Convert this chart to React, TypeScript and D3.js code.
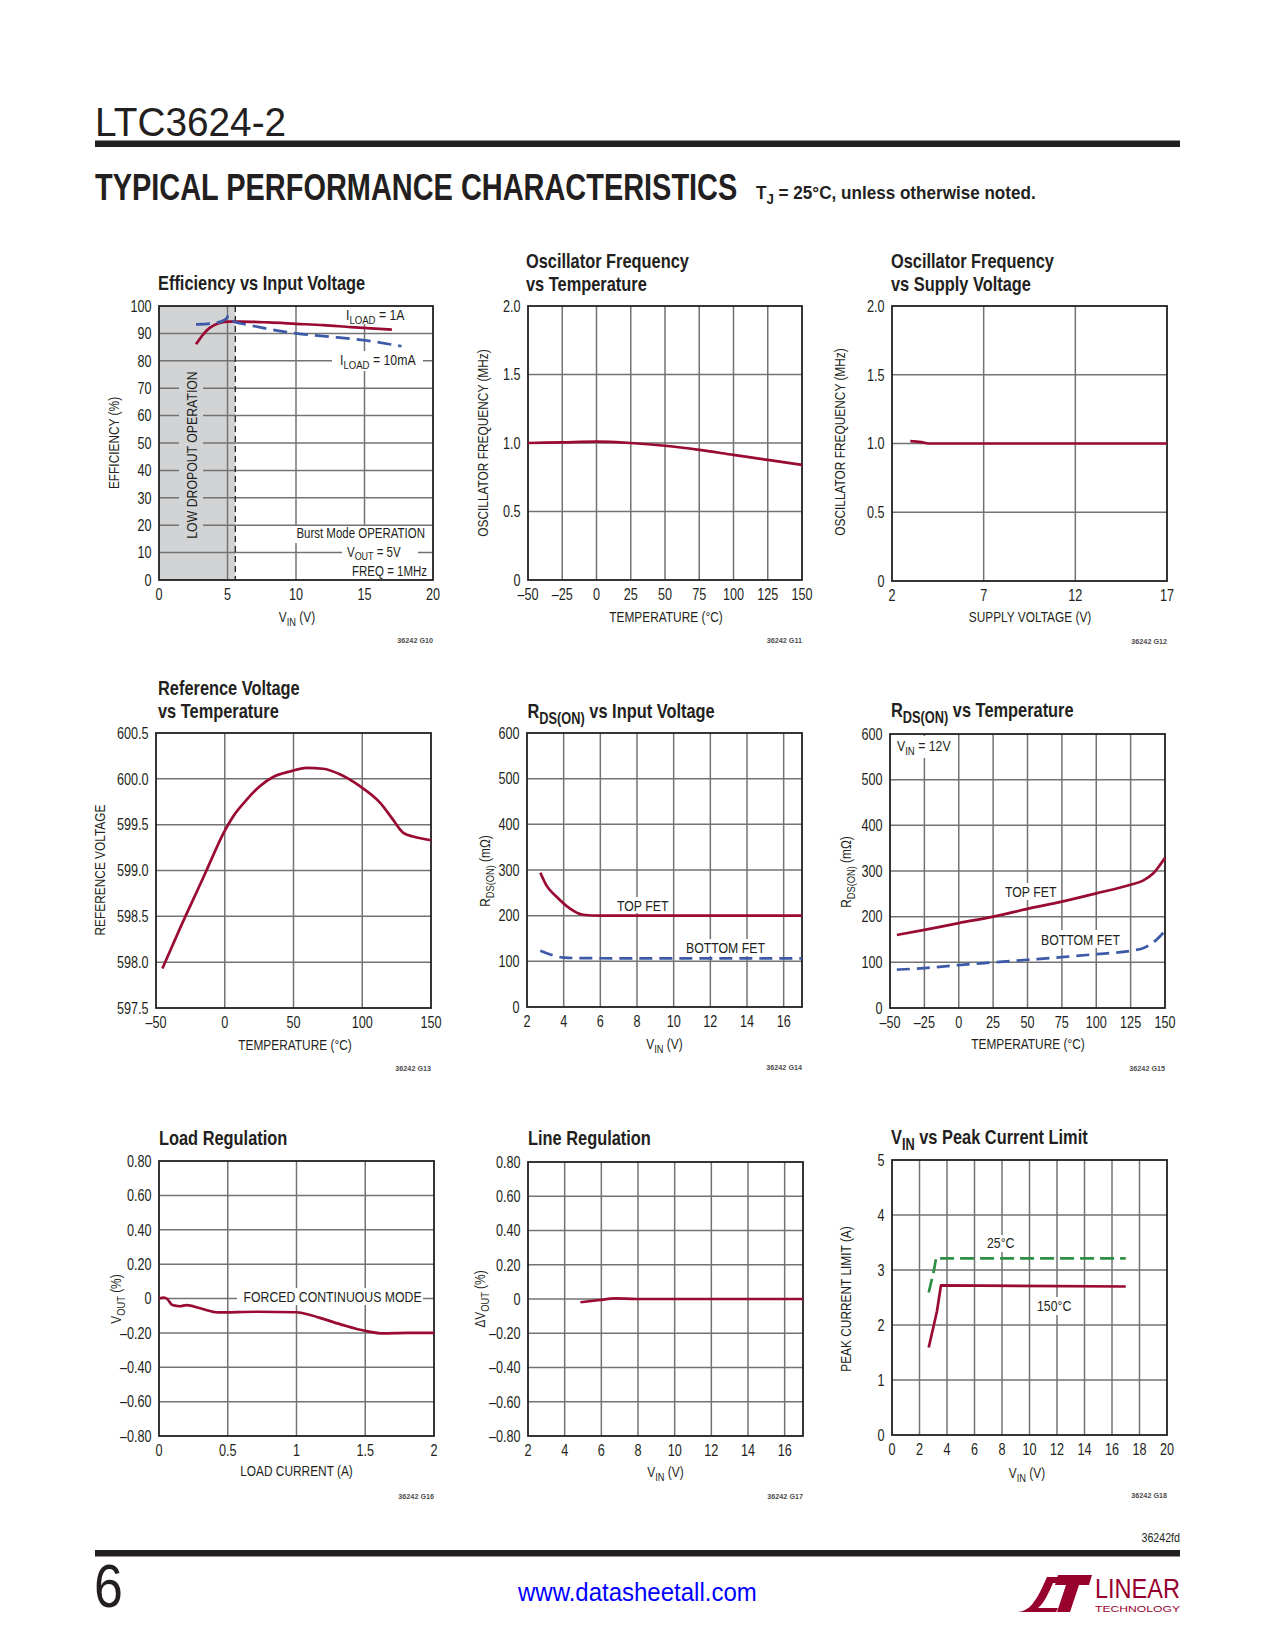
import React from 'react';
import * as d3 from 'd3';

const FONT = "'Liberation Sans', Arial, Helvetica, sans-serif";
const SX = 0.82; // horizontal compression to mimic Helvetica Condensed
const INK = '#231f20';
const RED = '#9a0b33';
const BLUE = '#3d5aa8';
const GREEN = '#2f8e45';
const GRID = '#737373';
const SHADE = '#d1d3d4';

// ---------- DATA ----------
// Efficiency vs Input Voltage
const effVin1A = [2.7, 3.2, 3.7, 4.3, 5.0, 6.0, 8.0, 10, 12, 14, 17];
const eff1A = [86, 89.5, 92, 93.6, 94.3, 94.3, 94, 93.5, 93, 92.3, 91.4];
const effVin10mA = [2.7, 4.2, 4.9, 5.1, 5.5, 6, 7, 8, 10, 12, 15, 17.7];
const eff10mA = [93.3, 93.9, 95.3, 96.6, 94.2, 93.6, 92.6, 91.6, 90, 89, 87.5, 85.3];
const effXTicks = [0, 5, 10, 15, 20];
const effXLabels = ['0', '5', '10', '15', '20'];
const effYTicks = [0, 10, 20, 30, 40, 50, 60, 70, 80, 90, 100];
const effYLabels = ['0', '10', '20', '30', '40', '50', '60', '70', '80', '90', '100'];
const dropoutEdge = 5.57;

// Oscillator Frequency vs Temperature
const oscTemp = [-50, -25, 0, 25, 50, 75, 100, 125, 150];
const oscFreqT = [1.0, 1.005, 1.01, 1.0, 0.98, 0.95, 0.913, 0.877, 0.84];
const tempTicks = [-50, -25, 0, 25, 50, 75, 100, 125, 150];
const tempLabels = ['–50', '–25', '0', '25', '50', '75', '100', '125', '150'];
const freqTicks = [0, 0.5, 1.0, 1.5, 2.0];
const freqLabels = ['0', '0.5', '1.0', '1.5', '2.0'];

// Oscillator Frequency vs Supply Voltage
const oscVs = [3, 3.6, 4, 5, 7, 12, 17];
const oscFreqV = [1.017, 1.01, 1.0, 1.0, 1.0, 1.0, 1.0];
const supplyTicks = [2, 7, 12, 17];
const supplyLabels = ['2', '7', '12', '17'];

// Reference Voltage vs Temperature
const refTemp = [-45.4, -32.8, -13.3, -5.9, -1.2, 6.1, 15.8, 25.5, 35.2, 47.3, 59.5, 71.6, 83.7, 98.3, 112.9, 122.6, 129.9, 137.1, 150];
const refV = [597.93, 598.36, 599.0, 599.25, 599.4, 599.59, 599.77, 599.92, 600.02, 600.08, 600.12, 600.11, 600.05, 599.92, 599.74, 599.55, 599.41, 599.37, 599.33];
const refXTicks = [-50, 0, 50, 100, 150];
const refXLabels = ['–50', '0', '50', '100', '150'];
const refYTicks = [597.5, 598.0, 598.5, 599.0, 599.5, 600.0, 600.5];
const refYLabels = ['597.5', '598.0', '598.5', '599.0', '599.5', '600.0', '600.5'];

// RDS(ON) vs Input Voltage
const rdsVinTop = [2.73, 3.05, 3.6, 4.33, 5.05, 5.96, 8, 12, 17];
const rdsTopV = [294, 267, 242, 216, 202, 200, 200, 200, 200];
const rdsVinBot = [2.73, 3.6, 4.05, 5, 8, 12, 17];
const rdsBotV = [123, 111, 108, 107, 106.5, 106.5, 106.5];
const vinTicks = [2, 4, 6, 8, 10, 12, 14, 16];
const vinLabels = ['2', '4', '6', '8', '10', '12', '14', '16'];
const rdsTicks = [0, 100, 200, 300, 400, 500, 600];
const rdsLabels = ['0', '100', '200', '300', '400', '500', '600'];

// RDS(ON) vs Temperature
const rdsTemp = [-45, -25, 0, 25, 50, 75, 100, 125, 134, 141.5, 150];
const rdsTopT = [160, 171, 186, 200, 217, 233, 251, 270, 279, 295, 329];
const rdsBotT = [84, 87.4, 94, 99.8, 105.6, 111.4, 118, 125.3, 131, 143.5, 169];

// Load Regulation
const loadI = [0, 0.036, 0.06, 0.097, 0.153, 0.2, 0.3, 0.43, 0.71, 1.0, 1.1, 1.2, 1.34, 1.51, 1.63, 1.8, 2.0];
const loadDV = [0, 0.005, -0.003, -0.038, -0.045, -0.038, -0.057, -0.081, -0.077, -0.08, -0.096, -0.12, -0.155, -0.19, -0.203, -0.2, -0.2];
const loadXTicks = [0, 0.5, 1, 1.5, 2];
const loadXLabels = ['0', '0.5', '1', '1.5', '2'];
const regYTicks = [-0.8, -0.6, -0.4, -0.2, 0, 0.2, 0.4, 0.6, 0.8];
const regYLabels = ['–0.80', '–0.60', '–0.40', '–0.20', '0', '0.20', '0.40', '0.60', '0.80'];

// Line Regulation
const lineVin = [4.86, 5.92, 6.74, 7.9, 10, 14, 17];
const lineDV = [-0.019, -0.006, 0.004, 0, 0, 0, 0];

// VIN vs Peak Current Limit
const ipkVin25 = [2.67, 3.03, 3.22, 3.47, 17];
const ipk25 = [2.59, 2.97, 3.23, 3.21, 3.21];
const ipkVin150 = [2.67, 3.27, 3.56, 17];
const ipk150 = [1.59, 2.25, 2.72, 2.7];
const ipkXTicks = [0, 2, 4, 6, 8, 10, 12, 14, 16, 18, 20];
const ipkXLabels = ['0', '2', '4', '6', '8', '10', '12', '14', '16', '18', '20'];
const ipkYTicks = [0, 1, 2, 3, 4, 5];
const ipkYLabels = ['0', '1', '2', '3', '4', '5'];

// ---------- HELPERS ----------
type Part = [string, boolean?];

function Rich(props: any) {
  const { parts, size, x = 0, y = 0, anchor = 'start', rotate = false, weight = 'normal', fill = INK, sx = SX } = props;
  const shift = size * 0.28;
  let cur = 0;
  const tf = `translate(${x},${y})${rotate ? ' rotate(-90)' : ''} scale(${sx},1)`;
  return (
    <g transform={tf}>
      <text fontSize={size} fontFamily={FONT} fill={fill} fontWeight={weight} textAnchor={anchor}>
        {parts.map((p: Part, i: number) => {
          const sub = !!p[1];
          const target = sub ? shift : 0;
          const d = target - cur;
          cur = target;
          return (
            <tspan key={i} dy={d !== 0 ? d : undefined} fontSize={sub ? size * 0.78 : size}>
              {p[0]}
            </tspan>
          );
        })}
      </text>
    </g>
  );
}

interface Series { x: number[]; y: number[]; color: string; dash?: string; curve?: any }
interface Label { parts: Part[]; x: number; y: number; anchor?: string; rotate?: boolean; size?: number }
interface Gap { x: number; y: number; w: number; h: number; fill?: string }

const TICK = 16;
const TICK_SX = 0.79;

function Chart(c: any) {
  const xs = d3.scaleLinear().domain(c.xDomain).range([c.left, c.right]);
  const ys = d3.scaleLinear().domain(c.yDomain).range([c.bottom, c.top]);
  const vGrid: number[] = c.vGrid ?? c.xTicks.slice(1, -1);
  const hGrid: number[] = c.hGrid ?? c.yTicks.slice(1, -1);
  return (
    <g>
      {c.shade && (
        <rect x={xs(c.shade[0])} y={c.top} width={xs(c.shade[1]) - xs(c.shade[0])} height={c.bottom - c.top} fill={SHADE} />
      )}
      {vGrid.map((v: number) => (
        <line key={'v' + v} x1={xs(v)} x2={xs(v)} y1={c.top} y2={c.bottom} stroke={GRID} strokeWidth={1.5} />
      ))}
      {hGrid.map((v: number) => (
        <line key={'h' + v} x1={c.left} x2={c.right} y1={ys(v)} y2={ys(v)} stroke={GRID} strokeWidth={1.5} />
      ))}
      {c.shade && (
        <line x1={xs(c.shade[1])} x2={xs(c.shade[1])} y1={c.top} y2={c.bottom} stroke={INK} strokeWidth={1.3} strokeDasharray="6 4" />
      )}
      {(c.gaps ?? []).map((g: Gap, i: number) => (
        <rect key={'g' + i} x={g.x} y={g.y} width={g.w} height={g.h} fill={g.fill ?? '#ffffff'} />
      ))}
      <rect x={c.left} y={c.top} width={c.right - c.left} height={c.bottom - c.top} fill="none" stroke={INK} strokeWidth={1.8} />
      {c.series.map((s: Series, i: number) => {
        const pts: [number, number][] = s.x.map((xv, j) => [xs(xv), ys(s.y[j])]);
        const gen = d3.line().curve(s.curve ?? d3.curveMonotoneX);
        return (
          <path key={'s' + i} d={gen(pts) ?? ''} fill="none" stroke={s.color} strokeWidth={2.7}
            strokeDasharray={s.dash} strokeLinejoin="round" strokeLinecap="butt" />
        );
      })}
      {(c.labels ?? []).map((l: Label, i: number) => (
        <Rich key={'l' + i} parts={l.parts} size={l.size ?? 15} x={l.x} y={l.y} anchor={l.anchor ?? 'start'} rotate={l.rotate} />
      ))}
      {c.xTicks.map((v: number, i: number) => (
        <Rich key={'xt' + v} parts={[[c.xTickLabels[i]]]} size={TICK} sx={TICK_SX} x={xs(v)} y={c.bottom + 19.5} anchor="middle" />
      ))}
      {c.yTicks.map((v: number, i: number) => (
        <Rich key={'yt' + v} parts={[[c.yTickLabels[i]]]} size={TICK} sx={TICK_SX} x={c.left - 7.5} y={ys(v) + 5.8} anchor="end" />
      ))}
      {c.title.map((line: Part[], i: number) => (
        <Rich key={'t' + i} parts={line} size={20} weight="bold" x={c.titleX}
          y={c.titleY - (c.title.length - 1 - i) * 23} />
      ))}
      <Rich parts={c.xTitle} size={14.5} x={c.xTitleX} y={c.xTitleY} anchor="middle" />
      <Rich parts={c.yTitle} size={14.5} x={c.yTitleX} y={c.yTitleY} anchor="middle" rotate />
      <Rich parts={[[c.code]]} size={8} weight="bold" x={c.right} y={c.bottom + 63} anchor="end" fill="#4d4d4f" sx={0.9} />
    </g>
  );
}

const VIN: Part[] = [['V'], ['IN', true], [' (V)']];
const TEMP: Part[] = [['TEMPERATURE (°C)']];
const RDS_Y: Part[] = [['R'], ['DS(ON)', true], [' (mΩ)']];

export default function App() {
  const charts = [
    {
      code: '36242 G10', left: 159, top: 306, right: 433, bottom: 580,
      xDomain: [0, 20], yDomain: [0, 100],
      xTicks: effXTicks, xTickLabels: effXLabels, yTicks: effYTicks, yTickLabels: effYLabels,
      shade: [0, dropoutEdge],
      series: [
        { x: effVin1A, y: eff1A, color: RED },
        { x: effVin10mA, y: eff10mA, color: BLUE, dash: '14 7' },
      ],
      gaps: [
        { x: 179, y: 368, w: 24, h: 174, fill: SHADE },
        { x: 343, y: 307, w: 69, h: 17 },
        { x: 332, y: 351, w: 91, h: 20 },
        { x: 283, y: 526, w: 145, h: 17 },
        { x: 342, y: 543, w: 76, h: 18 },
        { x: 344, y: 561, w: 86, h: 18 },
      ],
      labels: [
        { parts: [['I'], ['LOAD', true], [' = 1A']], x: 346, y: 320 },
        { parts: [['I'], ['LOAD', true], [' = 10mA']], x: 340, y: 365 },
        { parts: [['LOW DROPOUT OPERATION']], x: 197, y: 455, anchor: 'middle', rotate: true },
        { parts: [['Burst Mode OPERATION']], x: 425, y: 538, anchor: 'end', size: 14 },
        { parts: [['V'], ['OUT', true], [' = 5V']], x: 347, y: 556.5, size: 14 },
        { parts: [['FREQ = 1MHz']], x: 427, y: 576, anchor: 'end', size: 14 },
      ],
      title: [[['Efficiency vs Input Voltage']]], titleX: 158, titleY: 290,
      xTitle: VIN, xTitleX: 297, xTitleY: 622,
      yTitle: [['EFFICIENCY (%)']], yTitleX: 119, yTitleY: 443,
    },
    {
      code: '36242 G11', left: 528, top: 306, right: 802, bottom: 580,
      xDomain: [-50, 150], yDomain: [0, 2],
      xTicks: tempTicks, xTickLabels: tempLabels, yTicks: freqTicks, yTickLabels: freqLabels,
      series: [{ x: oscTemp, y: oscFreqT, color: RED }],
      title: [[['Oscillator Frequency']], [['vs Temperature']]], titleX: 526, titleY: 291,
      xTitle: TEMP, xTitleX: 666, xTitleY: 622,
      yTitle: [['OSCILLATOR FREQUENCY (MHz)']], yTitleX: 487.5, yTitleY: 443,
    },
    {
      code: '36242 G12', left: 892, top: 306, right: 1167, bottom: 581,
      xDomain: [2, 17], yDomain: [0, 2],
      xTicks: supplyTicks, xTickLabels: supplyLabels, yTicks: freqTicks, yTickLabels: freqLabels,
      series: [{ x: oscVs, y: oscFreqV, color: RED }],
      title: [[['Oscillator Frequency']], [['vs Supply Voltage']]], titleX: 891, titleY: 291,
      xTitle: [['SUPPLY VOLTAGE (V)']], xTitleX: 1030, xTitleY: 622,
      yTitle: [['OSCILLATOR FREQUENCY (MHz)']], yTitleX: 845, yTitleY: 442,
    },
    {
      code: '36242 G13', left: 156, top: 733, right: 431, bottom: 1008,
      xDomain: [-50, 150], yDomain: [597.5, 600.5],
      xTicks: refXTicks, xTickLabels: refXLabels, yTicks: refYTicks, yTickLabels: refYLabels,
      series: [{ x: refTemp, y: refV, color: RED }],
      title: [[['Reference Voltage']], [['vs Temperature']]], titleX: 158, titleY: 718,
      xTitle: TEMP, xTitleX: 295, xTitleY: 1050,
      yTitle: [['REFERENCE VOLTAGE']], yTitleX: 104.5, yTitleY: 870,
    },
    {
      code: '36242 G14', left: 527, top: 733, right: 802, bottom: 1007,
      xDomain: [2, 17], yDomain: [0, 600],
      xTicks: vinTicks, xTickLabels: vinLabels, yTicks: rdsTicks, yTickLabels: rdsLabels,
      vGrid: vinTicks.slice(1),
      series: [
        { x: rdsVinTop, y: rdsTopV, color: RED },
        { x: rdsVinBot, y: rdsBotV, color: BLUE, dash: '13 7' },
      ],
      gaps: [
        { x: 614, y: 897, w: 54, h: 16 },
        { x: 683, y: 939, w: 82, h: 17 },
      ],
      labels: [
        { parts: [['TOP FET']], x: 617, y: 911 },
        { parts: [['BOTTOM FET']], x: 686, y: 953 },
      ],
      title: [[['R'], ['DS(ON)', true], [' vs Input Voltage']]], titleX: 527.5, titleY: 718,
      xTitle: VIN, xTitleX: 664.5, xTitleY: 1048.5,
      yTitle: RDS_Y, yTitleX: 490, yTitleY: 871,
    },
    {
      code: '36242 G15', left: 890, top: 734, right: 1165, bottom: 1008,
      xDomain: [-50, 150], yDomain: [0, 600],
      xTicks: tempTicks, xTickLabels: tempLabels, yTicks: rdsTicks, yTickLabels: rdsLabels,
      series: [
        { x: rdsTemp, y: rdsTopT, color: RED },
        { x: rdsTemp, y: rdsBotT, color: BLUE, dash: '13 7' },
      ],
      gaps: [
        { x: 893, y: 736, w: 62, h: 22 },
        { x: 1002, y: 883, w: 54, h: 17 },
        { x: 1038, y: 930, w: 81, h: 18 },
      ],
      labels: [
        { parts: [['V'], ['IN', true], [' = 12V']], x: 897, y: 751 },
        { parts: [['TOP FET']], x: 1005, y: 897 },
        { parts: [['BOTTOM FET']], x: 1041, y: 945 },
      ],
      title: [[['R'], ['DS(ON)', true], [' vs Temperature']]], titleX: 891, titleY: 717,
      xTitle: TEMP, xTitleX: 1028, xTitleY: 1048.5,
      yTitle: RDS_Y, yTitleX: 851, yTitleY: 872,
    },
    {
      code: '36242 G16', left: 159, top: 1161, right: 434, bottom: 1436,
      xDomain: [0, 2], yDomain: [-0.8, 0.8],
      xTicks: loadXTicks, xTickLabels: loadXLabels, yTicks: regYTicks, yTickLabels: regYLabels,
      series: [{ x: loadI, y: loadDV, color: RED }],
      gaps: [{ x: 237, y: 1288, w: 186, h: 17 }],
      labels: [{ parts: [['FORCED CONTINUOUS MODE']], x: 243.5, y: 1302 }],
      title: [[['Load Regulation']]], titleX: 159, titleY: 1145,
      xTitle: [['LOAD CURRENT (A)']], xTitleX: 296.5, xTitleY: 1476,
      yTitle: [['V'], ['OUT', true], [' (%)']], yTitleX: 121, yTitleY: 1299,
    },
    {
      code: '36242 G17', left: 528, top: 1162, right: 803, bottom: 1436,
      xDomain: [2, 17], yDomain: [-0.8, 0.8],
      xTicks: vinTicks, xTickLabels: vinLabels, yTicks: regYTicks, yTickLabels: regYLabels,
      vGrid: vinTicks.slice(1),
      series: [{ x: lineVin, y: lineDV, color: RED }],
      title: [[['Line Regulation']]], titleX: 528, titleY: 1145,
      xTitle: VIN, xTitleX: 665.5, xTitleY: 1477,
      yTitle: [['ΔV'], ['OUT', true], [' (%)']], yTitleX: 485, yTitleY: 1299,
    },
    {
      code: '36242 G18', left: 892, top: 1160, right: 1167, bottom: 1435,
      xDomain: [0, 20], yDomain: [0, 5],
      xTicks: ipkXTicks, xTickLabels: ipkXLabels, yTicks: ipkYTicks, yTickLabels: ipkYLabels,
      series: [
        { x: ipkVin25, y: ipk25, color: GREEN, dash: '14 6', curve: d3.curveLinear },
        { x: ipkVin150, y: ipk150, color: RED, curve: d3.curveLinear },
      ],
      gaps: [
        { x: 983, y: 1235, w: 36, h: 17 },
        { x: 1034, y: 1297, w: 41, h: 18 },
      ],
      labels: [
        { parts: [['25°C']], x: 987, y: 1248 },
        { parts: [['150°C']], x: 1037, y: 1311 },
      ],
      title: [[['V'], ['IN', true], [' vs Peak Current Limit']]], titleX: 891, titleY: 1144,
      xTitle: VIN, xTitleX: 1027, xTitleY: 1478,
      yTitle: [['PEAK CURRENT LIMIT (A)']], yTitleX: 850.5, yTitleY: 1299,
    },
  ];

  return (
    <svg width={1275} height={1650} viewBox="0 0 1275 1650"
      style={{ position: 'absolute', left: 0, top: 0, background: '#ffffff' }}>
      <rect x={0} y={0} width={1275} height={1650} fill="#ffffff" />
      {/* header */}
      <Rich parts={[['LTC3624-2']]} size={40} x={95} y={136} sx={0.97} />
      <rect x={95} y={140.5} width={1085} height={6.5} fill={INK} />
      <Rich parts={[['TYPICAL PERFORMANCE CHARACTERISTICS']]} size={37} weight={900} x={95} y={200} sx={0.782} />
      <Rich parts={[['T'], ['J', true], [' = 25°C, unless otherwise noted.']]} size={19} weight="bold" x={756} y={199} sx={0.9} />
      {charts.map((c) => <Chart key={c.code} {...c} />)}
      {/* footer */}
      <Rich parts={[['36242fd']]} size={13} x={1180} y={1542} anchor="end" />
      <rect x={95} y={1550} width={1085} height={6.5} fill={INK} />
      <Rich parts={[['6']]} size={61} x={94} y={1607} sx={0.85} />
      <Rich parts={[['www.datasheetall.com']]} size={25} x={518} y={1601} sx={0.96} fill="#0000ff" />
      <g fill="#98002e">
        <path d="M1018,1612 C1030,1611 1036,1600 1042,1588 L1047,1577 L1061,1577 L1059,1583 L1053,1583 C1047,1597 1043,1604 1038,1608 L1058,1608 L1056,1612 Z" />
        <path d="M1058,1575 L1092,1575 L1089,1585 L1079,1585 L1070,1612 L1057,1612 L1066,1585 L1055,1585 Z" />
        <text x={1095} y={1598} fontSize={27} fontFamily={FONT} textLength={85} lengthAdjust="spacingAndGlyphs">LINEAR</text>
        <text x={1095} y={1611.5} fontSize={8.5} fontFamily={FONT} textLength={85} lengthAdjust="spacingAndGlyphs">TECHNOLOGY</text>
      </g>
    </svg>
  );
}
